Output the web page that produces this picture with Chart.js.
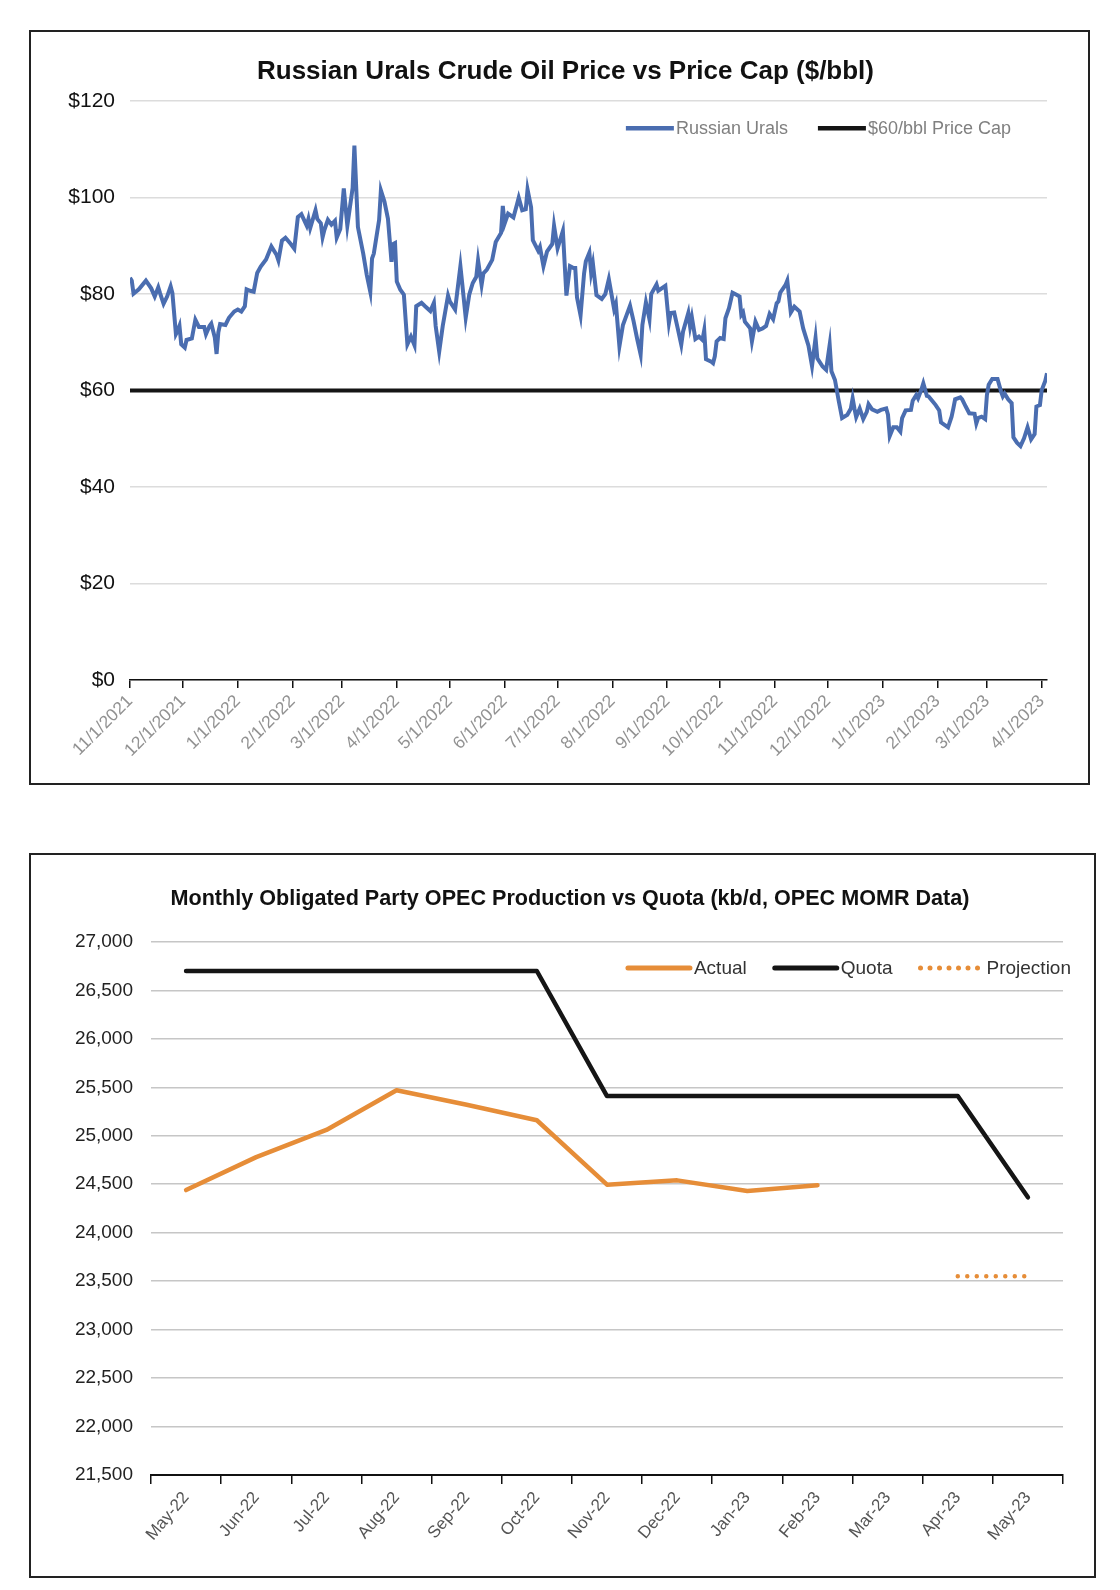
<!DOCTYPE html>
<html>
<head>
<meta charset="utf-8">
<title>Urals vs Price Cap / OPEC Production vs Quota</title>
<script src="https://cdn.jsdelivr.net/npm/chart.js@4.4.1/dist/chart.umd.min.js"></script>
<style>
  body { margin: 0; background: #fff; width: 1120px; height: 1590px; position: relative; font-family: "Liberation Sans", Arial, sans-serif; }
  .box { position: absolute; border: 2px solid #222; background: #fff; }
  #box1 { left: 29px; top: 30px; width: 1057px; height: 751px; }
  #box2 { left: 29px; top: 853px; width: 1063px; height: 721px; }
  canvas { display: block; }
</style>
</head>
<body>
<div class="box" id="box1"><canvas id="uralsChart" width="1057" height="751"></canvas></div>
<div class="box" id="box2"><canvas id="opecChart" width="1063" height="721"></canvas></div>

<script>
// ---- Chart 1 data: Russian Urals ($/bbl), day = days since 11/1/2021
const uralsStart = '11/1/2021';
const uralsDays = [
  0, 1, 2, 5, 9, 12, 14, 16, 17, 19, 21, 23, 24, 26, 27, 28, 29, 31, 32, 35,
  37, 39, 42, 43, 45, 46, 48, 49, 50, 51, 54, 56, 59, 61, 63, 65, 66, 68, 70, 72,
  74, 77, 80, 83, 84, 86, 88, 91, 93, 95, 97,
  100, 101, 102, 105, 106, 108, 109, 110, 112, 114, 116, 117, 119, 121, 123, 126, 127, 129, 132, 134,
  136, 137, 138, 141, 142, 144, 146, 148, 149, 150, 151, 153, 155, 157, 159, 161, 162, 165, 167, 170,
  172, 173, 175, 177, 180, 181, 184, 187, 188, 190, 192, 194, 196, 197, 199, 200,
  202, 205, 207, 210, 211, 212, 214, 217, 219, 220, 222, 224, 225, 227, 228, 231, 232, 234, 236, 239,
  240, 242, 245, 247, 249, 251, 252, 253, 255, 257, 258, 260, 261, 262, 264, 267, 269, 271, 274, 275,
  277, 279, 281, 283, 285, 287, 289, 290, 292, 294, 295, 298, 299, 303,
  305, 306, 308, 310, 312, 313, 316, 317, 318, 320, 322, 324, 325, 326, 329, 330, 331, 332, 334, 336,
  337, 339, 341, 343, 345, 346, 347, 348, 351, 352, 354, 356, 358, 360, 362, 364, 366, 367, 368, 371,
  372, 374, 376, 379, 381, 384, 386, 388, 389, 392, 394, 396, 397, 399, 401, 403,
  406, 408, 409, 410, 411, 413, 415, 417, 418, 420, 423, 425, 428, 429, 430, 432, 434, 436, 437, 439,
  442, 443, 445, 446, 448, 449, 451, 452, 454, 456, 458, 459, 461, 463, 465, 466, 467, 470, 471, 473,
  475, 478, 479, 480, 482, 484, 485, 486, 488, 491, 493, 494, 495, 497, 499, 500, 502, 504, 506, 508,
  510, 512, 513, 515, 516, 518, 519
];
const uralsPrices = [
  83.4, 82.8, 80.1, 81.0, 82.8, 81.2, 79.5, 81.4, 80.2, 78.0, 79.5, 81.6, 80.2, 71.7, 72.4, 73.4, 69.6, 68.9, 70.5, 70.8,
  74.7, 73.2, 73.2, 71.7, 73.4, 73.9, 71.0, 67.6, 72.1, 73.8, 73.6, 75.1, 76.4, 76.8, 76.4, 77.5, 81.0, 80.7, 80.5, 84.4,
  85.7, 87.2, 89.9, 88.1, 87.0, 91.1, 91.7, 90.4, 89.4, 96.0, 96.6,
  94.2, 95.6, 93.7, 97.4, 95.6, 94.7, 91.8, 93.3, 95.4, 94.4, 95.2, 91.7, 93.5, 101.9, 94.2, 102.0, 110.8, 93.9, 88.4, 84.0,
  80.5, 87.4, 88.4, 95.4, 101.5, 99.2, 95.6, 86.7, 90.4, 90.6, 82.6, 80.9, 79.9, 69.6, 71.2, 69.4, 77.5, 78.2, 77.5, 76.5,
  78.2, 73.4, 68.1, 73.4, 79.7, 78.5, 76.8, 85.8, 82.3, 75.1, 79.9, 82.3, 83.6, 87.0, 81.9, 84.3,
  85.1, 87.1, 90.8, 92.7, 98.3, 94.6, 96.7, 95.9, 98.6, 100.0, 97.4, 97.6, 101.7, 98.0, 91.2, 89.0, 89.8, 85.8, 88.8, 90.4,
  94.2, 89.5, 93.1, 79.7, 85.8, 85.4, 85.4, 79.3, 75.6, 84.3, 86.8, 88.6, 84.4, 86.3, 79.8, 79.0, 80.0, 83.1, 76.9, 78.0,
  69.2, 73.6, 75.6, 77.6, 74.4, 70.8, 67.5, 73.6, 78.3, 74.8, 80.0, 82.0, 80.7, 81.7,
  74.0, 76.1, 76.2, 72.9, 69.5, 72.2, 76.1, 73.3, 75.2, 70.7, 71.2, 70.5, 72.5, 66.5, 66.0, 65.7, 67.1, 70.2, 70.9, 70.7,
  75.0, 77.1, 80.3, 79.9, 79.5, 75.7, 76.2, 74.3, 72.9, 70.2, 74.3, 72.6, 72.9, 73.4, 75.9, 74.8, 78.1, 78.5, 80.3, 81.9,
  82.8, 76.2, 77.4, 76.4, 72.9, 69.3, 65.1, 70.9, 66.7, 65.0, 64.3, 69.5, 64.0, 62.2, 58.1, 54.3,
  55.0, 56.3, 58.4, 56.3, 54.5, 56.3, 54.1, 55.6, 57.2, 56.1, 55.6, 56.0, 56.3, 55.0, 50.6, 52.4, 52.4, 51.5, 54.3, 55.9,
  56.0, 57.9, 59.1, 58.4, 60.3, 61.5, 58.9, 58.8, 57.9, 57.0, 55.9, 53.4, 52.9, 52.4, 54.6, 56.3, 58.2, 58.6, 58.2, 56.7,
  55.3, 55.2, 53.2, 54.3, 54.6, 54.1, 59.1, 61.2, 62.4, 62.4, 59.8, 58.8, 59.4, 58.2, 57.4, 50.3, 49.2, 48.5, 50.1, 52.4,
  49.9, 51.0, 56.7, 57.0, 60.1, 62.0, 63.6
];
const priceCap = 60;
const monthTicks = [
  '11/1/2021', '12/1/2021', '1/1/2022', '2/1/2022', '3/1/2022', '4/1/2022', '5/1/2022', '6/1/2022', '7/1/2022',
  '8/1/2022', '9/1/2022', '10/1/2022', '11/1/2022', '12/1/2022', '1/1/2023', '2/1/2023', '3/1/2023', '4/1/2023'
];

// ---- Chart 2 data: kb/d
const months = ['May-22', 'Jun-22', 'Jul-22', 'Aug-22', 'Sep-22', 'Oct-22', 'Nov-22', 'Dec-22', 'Jan-23', 'Feb-23', 'Mar-23', 'Apr-23', 'May-23'];
const actual = [24440, 24780, 25060, 25470, 25320, 25160, 24495, 24540, 24430, 24490, null, null, null];
const quota = [26700, 26700, 26700, 26700, 26700, 26700, 25410, 25410, 25410, 25410, 25410, 25410, 24365];
const projection = [null, null, null, null, null, null, null, null, null, null, null, 23550, 23550];

const FONT = '"Liberation Sans", Arial, sans-serif';

function mdyToDay(s) {
  const [m, d, y] = s.split('/').map(Number);
  const [m0, d0, y0] = uralsStart.split('/').map(Number);
  return Math.round((Date.UTC(y, m - 1, d) - Date.UTC(y0, m0 - 1, d0)) / 86400000);
}
const tickDays = monthTicks.map(mdyToDay);

// legend drawn inside the plot, top right
const insideLegend = {
  id: 'insideLegend',
  afterDatasetsDraw(chart, args, opts) {
    const ctx = chart.ctx;
    const area = chart.chartArea;
    const items = chart.data.datasets.filter(d => d.label);
    ctx.save();
    ctx.font = opts.font;
    const widths = items.map(d => opts.lineLength + opts.textGap + ctx.measureText(d.label).width);
    const total = widths.reduce((a, b) => a + b, 0) + opts.itemGap * (items.length - 1);
    let x = area.right + opts.offsetX - total;
    const y = area.top + opts.offsetY;
    items.forEach((d, i) => {
      ctx.beginPath();
      ctx.strokeStyle = d.borderColor;
      ctx.lineWidth = opts.lineWidth;
      ctx.lineCap = d.borderCapStyle || 'butt';
      ctx.setLineDash(d.borderDash || []);
      ctx.moveTo(x, y);
      ctx.lineTo(x + opts.lineLength, y);
      ctx.stroke();
      ctx.setLineDash([]);
      ctx.fillStyle = opts.color;
      ctx.textAlign = 'left';
      ctx.textBaseline = 'middle';
      ctx.fillText(d.label, x + opts.lineLength + opts.textGap, y + 1);
      x += widths[i] + opts.itemGap;
    });
    ctx.restore();
  }
};

// nudge the title block sideways (the source centres it a bit right of the frame)
const titleShift = {
  id: 'titleShift',
  afterLayout(chart, args, opts) {
    const t = chart.titleBlock;
    if (t) { t.left += opts.dx; t.right += opts.dx; }
  }
};

// Chart 1
new Chart(document.getElementById('uralsChart'), {
  type: 'line',
  data: {
    datasets: [
      {
        label: 'Russian Urals',
        data: uralsDays.map((d, i) => ({ x: d, y: uralsPrices[i] })),
        borderColor: '#4a6db0',
        borderWidth: 4,
        pointRadius: 0,
        tension: 0
      },
      {
        label: '$60/bbl Price Cap',
        data: [{ x: 0, y: priceCap }, { x: uralsDays[uralsDays.length - 1], y: priceCap }],
        borderColor: '#151515',
        borderWidth: 4,
        pointRadius: 0
      }
    ]
  },
  options: {
    responsive: false,
    animation: false,
    devicePixelRatio: 1,
    layout: { padding: { left: 18, right: 41, top: 0, bottom: 0 } },
    plugins: {
      legend: { display: false },
      tooltip: { enabled: false },
      title: {
        display: true,
        text: 'Russian Urals Crude Oil Price vs Price Cap ($/bbl)',
        color: '#111',
        font: { family: FONT, size: 26, weight: 'bold' },
        padding: { top: 24, bottom: 14 }
      },
      titleShift: { dx: 17.5 },
      insideLegend: {
        font: '18px ' + FONT, color: '#808080',
        lineLength: 48, lineWidth: 4.5, textGap: 2, itemGap: 30,
        offsetX: -36, offsetY: 27
      }
    },
    scales: {
      x: {
        type: 'linear',
        min: 0,
        max: uralsDays[uralsDays.length - 1],
        afterBuildTicks: s => { s.ticks = tickDays.map(v => ({ value: v })); },
        afterFit: s => { s.height = 103; },
        ticks: {
          autoSkip: false, minRotation: 45, maxRotation: 45, padding: 3,
          color: '#929292', font: { family: FONT, size: 17.5 },
          callback: (v, i) => monthTicks[i]
        },
        grid: { drawOnChartArea: false, color: '#111', lineWidth: 1.5, tickLength: 8 },
        border: { color: '#111', width: 1.5 }
      },
      y: {
        min: 0, max: 120,
        afterFit: s => { s.width = 81; },
        ticks: { stepSize: 20, padding: 15, color: '#111', font: { family: FONT, size: 21 }, callback: v => '$' + v },
        grid: { color: '#dcdcdc', lineWidth: 1.5, drawTicks: false },
        border: { display: false }
      }
    }
  },
  plugins: [insideLegend, titleShift]
});

// Chart 2
new Chart(document.getElementById('opecChart'), {
  type: 'line',
  data: {
    labels: months,
    datasets: [
      {
        label: 'Actual', data: actual, borderColor: '#e68d38', borderWidth: 4.5,
        borderCapStyle: 'round', borderJoinStyle: 'round', pointRadius: 0, spanGaps: false
      },
      {
        label: 'Quota', data: quota, borderColor: '#151515', borderWidth: 4.5,
        borderCapStyle: 'round', borderJoinStyle: 'round', pointRadius: 0
      },
      {
        label: 'Projection', data: projection, borderColor: '#e68d38', borderWidth: 4.5,
        borderCapStyle: 'round', borderDash: [0, 9.5], pointRadius: 0
      }
    ]
  },
  options: {
    responsive: false,
    animation: false,
    devicePixelRatio: 1,
    layout: { padding: { left: 20, right: 31, top: 0, bottom: 0 } },
    plugins: {
      legend: { display: false },
      tooltip: { enabled: false },
      title: {
        display: true,
        text: 'Monthly Obligated Party OPEC Production vs Quota (kb/d, OPEC MOMR Data)',
        color: '#111',
        font: { family: FONT, size: 21.6, weight: 'bold' },
        padding: { top: 31, bottom: 30 }
      },
      titleShift: { dx: 13 },
      insideLegend: {
        font: '19px ' + FONT, color: '#333',
        lineLength: 62, lineWidth: 5, textGap: 4, itemGap: 28,
        offsetX: 8, offsetY: 26
      }
    },
    scales: {
      x: {
        offset: true,
        afterFit: s => { s.height = 101; },
        ticks: { autoSkip: false, minRotation: 50, maxRotation: 50, padding: 4, color: '#555', font: { family: FONT, size: 17 } },
        grid: { offset: true, drawOnChartArea: false, color: '#111', lineWidth: 1.5, tickLength: 9 },
        border: { color: '#111', width: 2 }
      },
      y: {
        min: 21500, max: 27000,
        afterFit: s => { s.width = 100; },
        ticks: { stepSize: 500, padding: 18, color: '#222', font: { family: FONT, size: 19 }, callback: v => v.toLocaleString('en-US') },
        grid: { color: '#c6c6c6', lineWidth: 1.5, drawTicks: false },
        border: { display: false }
      }
    }
  },
  plugins: [insideLegend, titleShift]
});
</script>
</body>
</html>
